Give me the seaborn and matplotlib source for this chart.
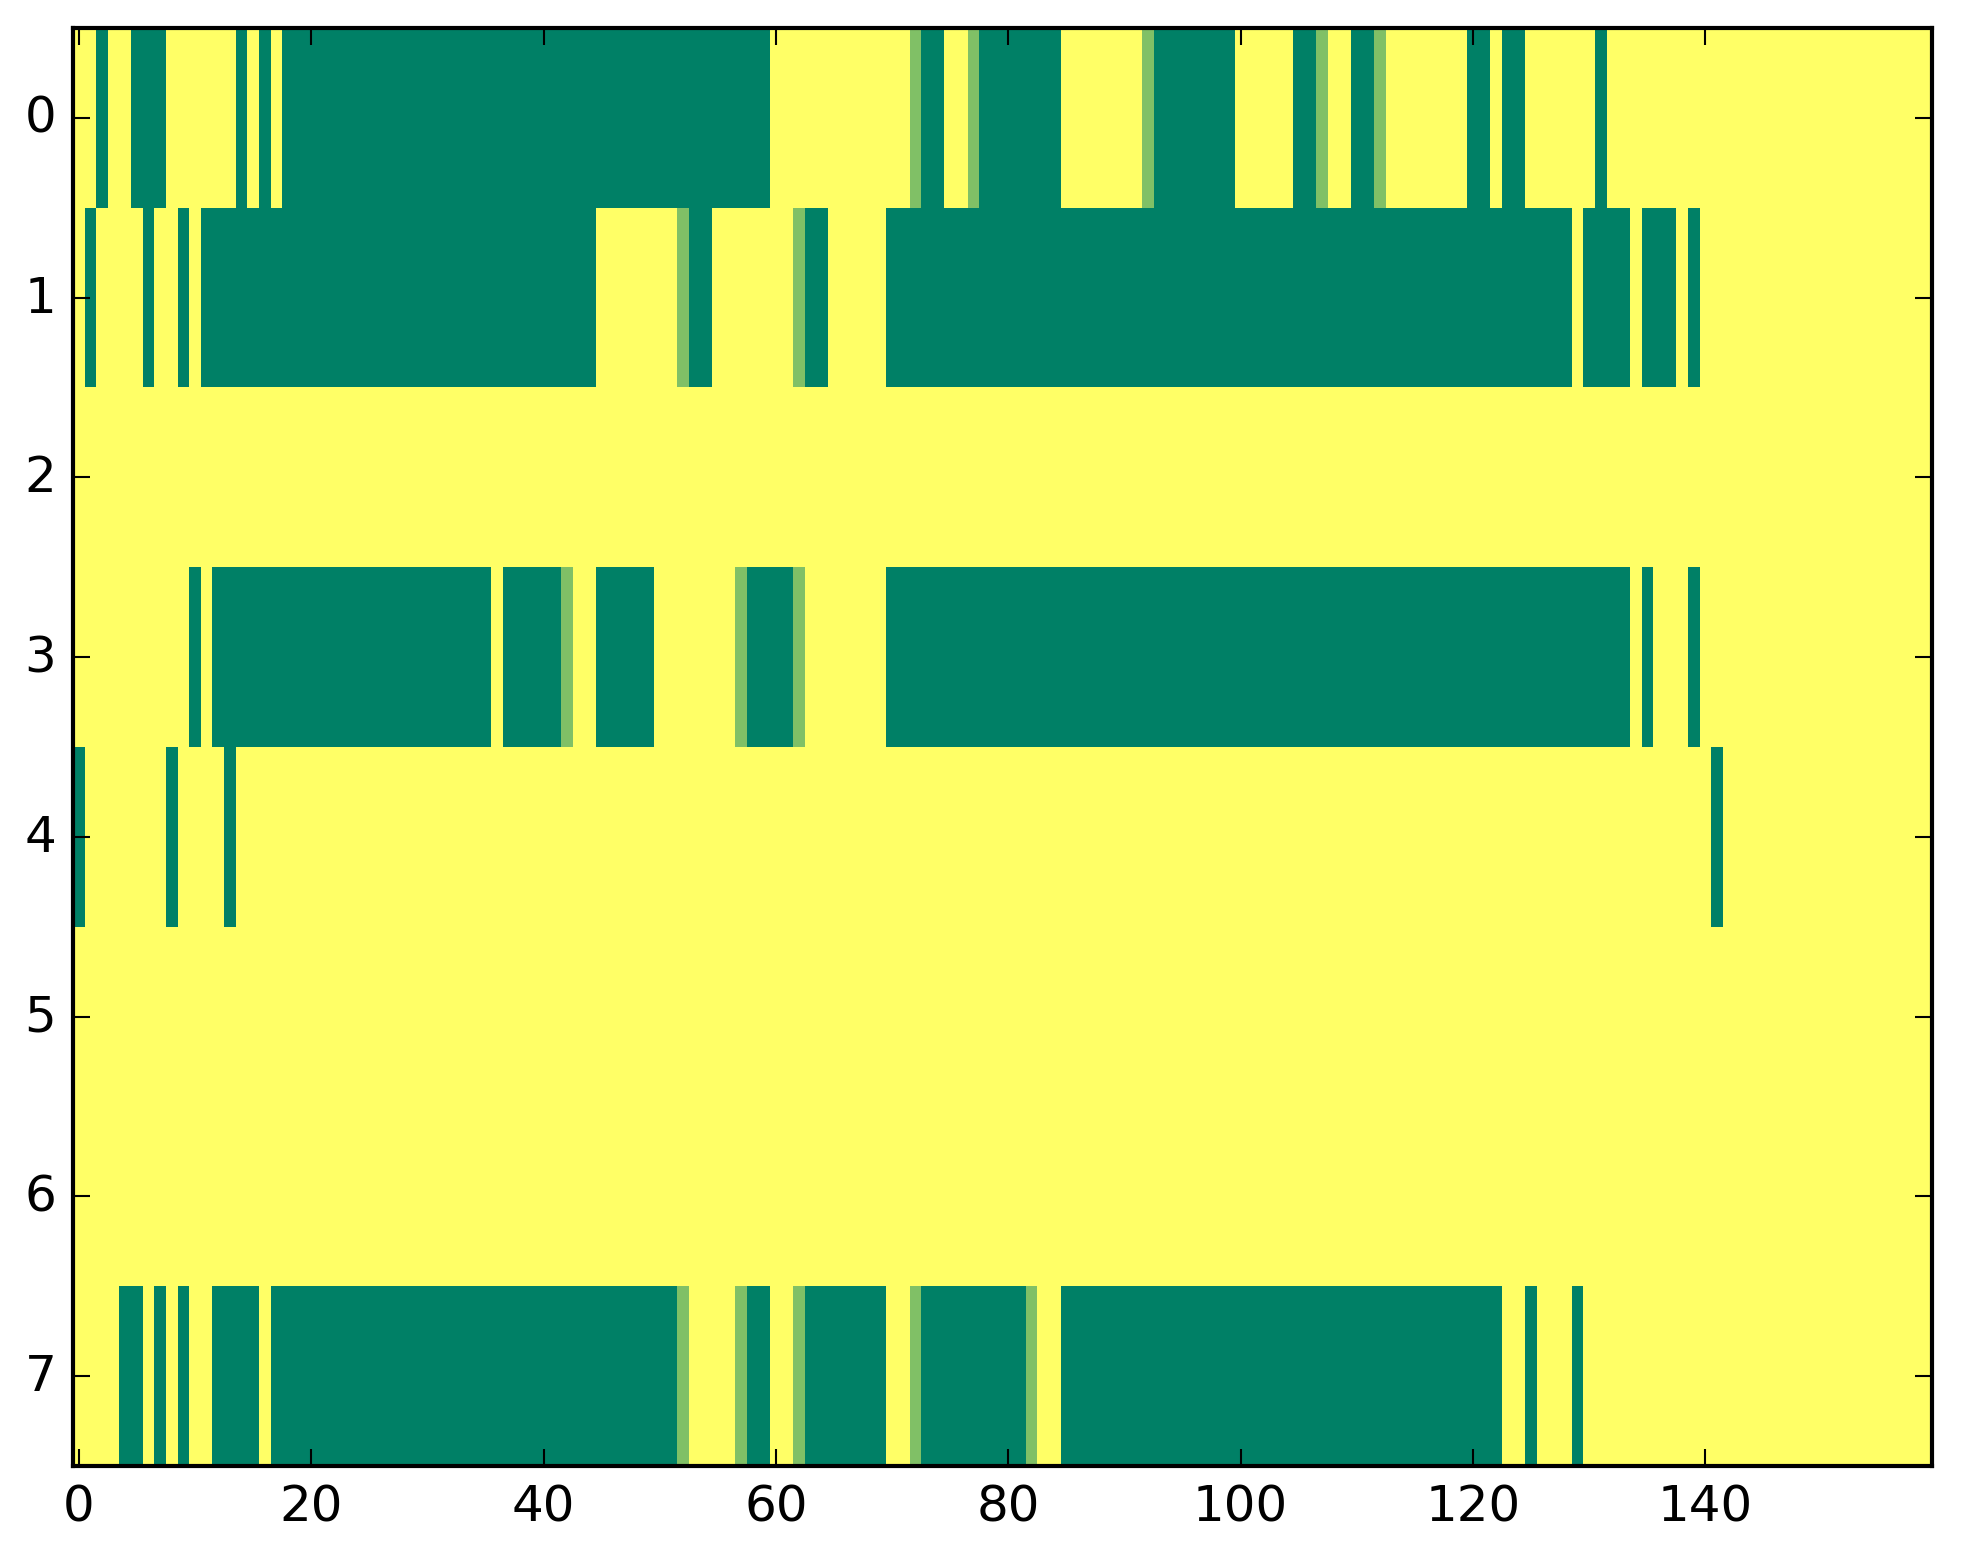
import matplotlib
matplotlib.use('Agg')
import matplotlib.pyplot as plt
import seaborn as sns
import numpy as np
import pandas as pd

# one character per column: G = 0 (dark green), L = 0.5 (light green), Y = 1 (yellow)
row0 = ("YYGYYGGGYY YYYYGYGYGG GGGGGGGGGG GGGGGGGGGG GGGGGGGGGG GGGGGGGGGG "
        "YYYYYYYYYY YYLGGYYLGG GGGGGYYYYY YYLGGGGGGG YYYYYGGLYY GGLYYYYYYY "
        "GGYGGYYYYY YGYYYYYYYY YYYYYYYYYY YYYYYYYYYY")
row1 = ("YGYYYYGYYG YGGGGGGGGG GGGGGGGGGG GGGGGGGGGG GGGGGYYYYY YYLGGYYYYY "
        "YYLGGYYYYY GGGGGGGGGG GGGGGGGGGG GGGGGGGGGG GGGGGGGGGG GGGGGGGGGG "
        "GGGGGGGGGY GGGGYGGGYG YYYYYYYYYY YYYYYYYYYY")
row2 = "Y" * 160
row3 = ("YYYYYYYYYY GYGGGGGGGG GGGGGGGGGG GGGGGGYGGG GGLYYGGGGG YYYYYYYLGG "
        "GGLYYYYYYY GGGGGGGGGG GGGGGGGGGG GGGGGGGGGG GGGGGGGGGG GGGGGGGGGG "
        "GGGGGGGGGG GGGGYGYYYG YYYYYYYYYY YYYYYYYYYY")
row4 = ("GYYYYYYYGY YYYGYYYYYY YYYYYYYYYY YYYYYYYYYY YYYYYYYYYY YYYYYYYYYY "
        "YYYYYYYYYY YYYYYYYYYY YYYYYYYYYY YYYYYYYYYY YYYYYYYYYY YYYYYYYYYY "
        "YYYYYYYYYY YYYYYYYYYY YGYYYYYYYY YYYYYYYYYY")
row5 = "Y" * 160
row6 = "Y" * 160
row7 = ("YYYYGGYGYG YYGGGGYGGG GGGGGGGGGG GGGGGGGGGG GGGGGGGGGG GGLYYYYLGG "
        "YYLGGGGGGG YYLGGGGGGG GGLYYGGGGG GGGGGGGGGG GGGGGGGGGG GGGGGGGGGG "
        "GGGYYGYYYG YYYYYYYYYY YYYYYYYYYY YYYYYYYYYY")

codes = {"G": 0.0, "L": 0.5, "Y": 1.0}
x_ticks = [0, 20, 40, 60, 80, 100, 120, 140]
y_ticks = [0, 1, 2, 3, 4, 5, 6, 7]

rows = [row0, row1, row2, row3, row4, row5, row6, row7]
grid = pd.DataFrame([[codes[ch] for ch in r.replace(" ", "")] for r in rows])

sns.set_style("white")
plt.rcParams['font.family'] = ['DejaVu Sans']
plt.rcParams['font.size'] = 12

fig = plt.figure(figsize=(1963 / 300, 1564 / 300), dpi=300)
ax = fig.add_axes([0.0372, 0.062, 0.9470, 0.9195])

sns.heatmap(grid, cmap="summer", vmin=0, vmax=1, cbar=False, ax=ax,
            linewidths=0, rasterized=True)

ax.set_xticks(np.array(x_ticks) + 0.5)
ax.set_xticklabels([str(t) for t in x_ticks], rotation=0, fontsize=12)
ax.set_yticks(np.array(y_ticks) + 0.5)
ax.set_yticklabels([str(t) for t in y_ticks], rotation=0, fontsize=12)
ax.set_xlabel("")
ax.set_ylabel("")
ax.set_axisbelow(False)

for s in ax.spines.values():
    s.set_visible(True)
    s.set_color("black")
    s.set_linewidth(1.0)
    s.set_zorder(5)

ax.tick_params(direction="in", length=4, width=0.5, color="black",
               labelcolor="black", pad=4,
               top=True, right=True, bottom=True, left=True,
               labeltop=False, labelright=False)

fig.savefig("out.png", dpi=300, facecolor="white")
plt.close(fig)
